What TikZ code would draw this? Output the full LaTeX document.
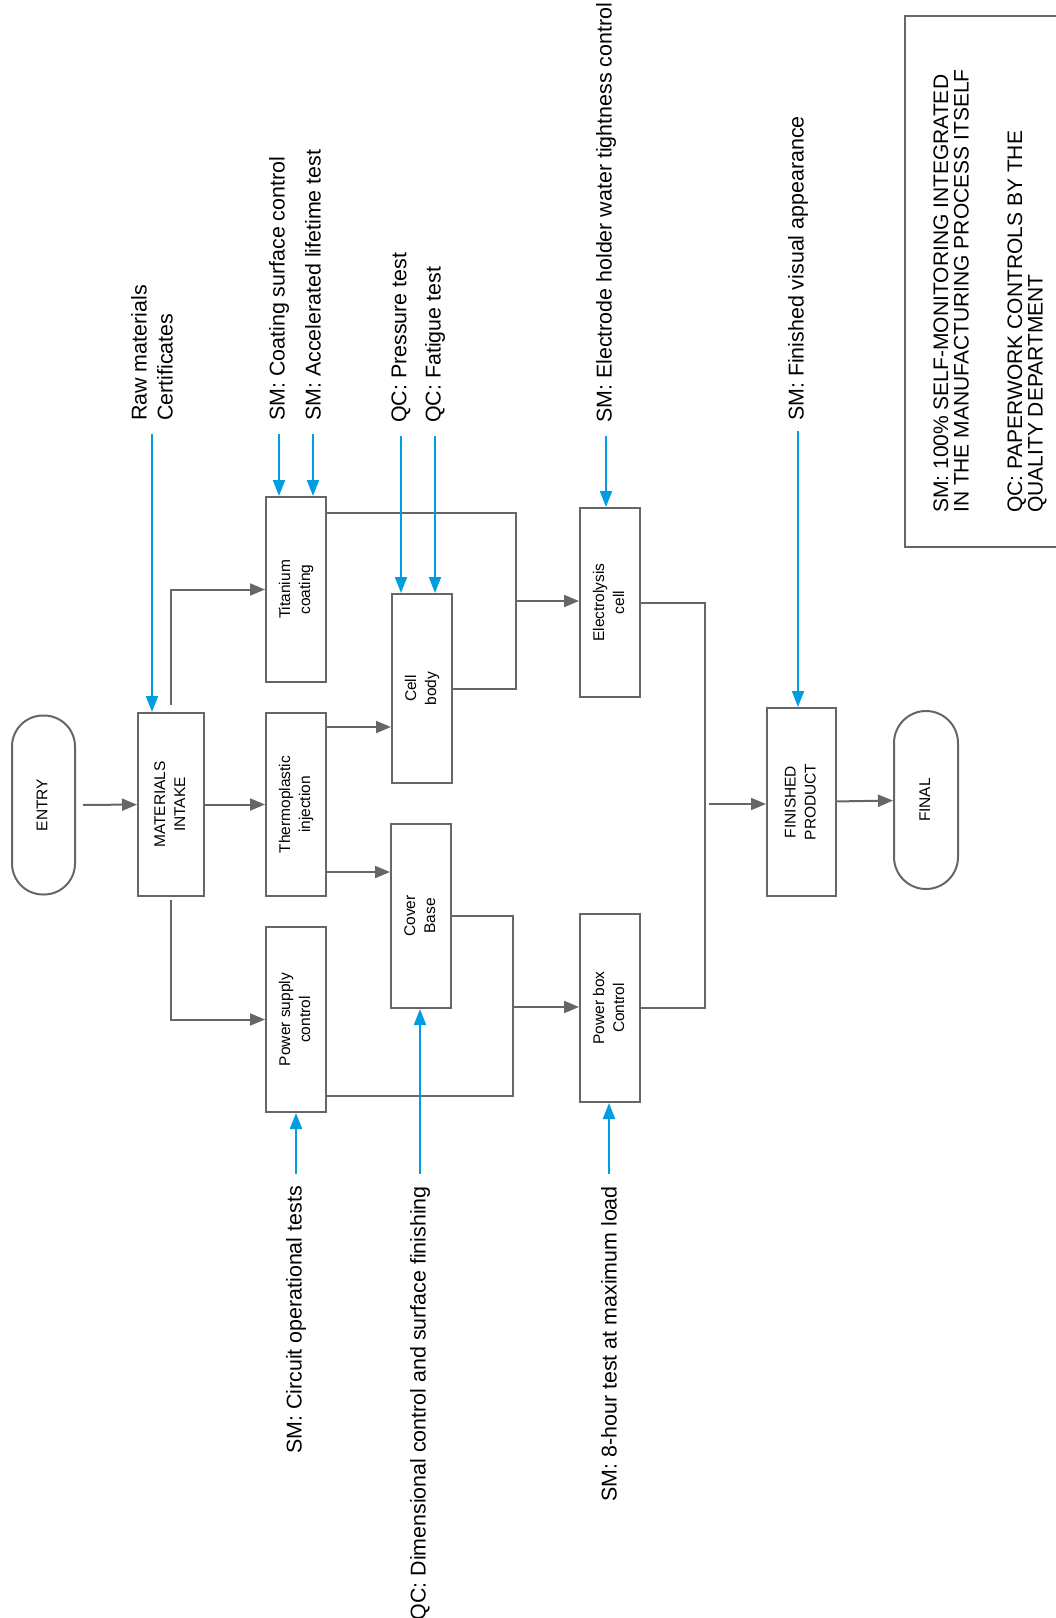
\documentclass[tikz,border=0pt]{standalone}
\usepackage{fontspec}
\setmainfont{Liberation Sans}
\usetikzlibrary{arrows.meta}
\definecolor{trait}{RGB}{102,102,102}
\definecolor{ciel}{RGB}{0,158,224}
\newcommand{\vtxt}[1]{\rotatebox{90}{\begin{tabular}{@{}c@{}}#1\end{tabular}}}

\begin{document}
\begin{tikzpicture}[x=1pt,y=-1pt,
  boite/.style={draw=trait, line width=2pt, inner sep=0pt, font=\fontsize{15.5}{20}\selectfont},
  pilule/.style={boite, rounded corners=31pt},
  etiq/.style={rotate=90, inner sep=0pt, align=left, font=\fontsize{21.4}{26}\selectfont},
  flux/.style={draw=trait, line width=2pt, -{Triangle[length=15pt,width=12pt]}},
  ligne/.style={draw=trait, line width=2pt},
  controle/.style={draw=ciel, line width=2pt, -{Triangle[length=16pt,width=12pt]}}]
\useasboundingbox (0,0) rectangle (1056,1618);
\clip (0,0) rectangle (1056,1618);

\node[pilule, minimum width=63pt, minimum height=179pt] (entry) at (43.5,805) {\vtxt{ENTRY}};
\node[boite, minimum width=66pt, minimum height=183pt] (mi) at (171,804.5) {\vtxt{MATERIALS\\INTAKE}};
\node[boite, minimum width=60pt, minimum height=185pt] (ti) at (296,589.5) {\vtxt{Titanium\\coating}};
\node[boite, minimum width=60pt, minimum height=183pt] (th) at (296,804.5) {\vtxt{Thermoplastic\\injection}};
\node[boite, minimum width=60pt, minimum height=185pt] (psc) at (296,1019.5) {\vtxt{Power supply\\control}};
\node[boite, minimum width=60pt, minimum height=189pt] (cb) at (422,688.5) {\vtxt{Cell\\body}};
\node[boite, minimum width=60pt, minimum height=184pt] (cv) at (421,916) {\vtxt{Cover\\Base}};
\node[boite, minimum width=60pt, minimum height=189pt] (ec) at (610,602.5) {\vtxt{Electrolysis\\cell}};
\node[boite, minimum width=60pt, minimum height=188pt] (pbc) at (610,1008) {\vtxt{Power box\\Control}};
\node[boite, minimum width=69pt, minimum height=188pt] (fp) at (801.5,802) {\vtxt{FINISHED\\PRODUCT}};
\node[pilule, rounded corners=32pt, minimum width=64pt, minimum height=178pt] (final) at (926,800) {\vtxt{FINAL}};

\node[etiq, anchor=west] (lraw) at (152,421) {Raw materials\\Certificates};
\node[etiq, anchor=west] (lti1) at (279,421) {SM: Coating surface control};
\node[etiq, anchor=west] (lti2) at (313,421) {SM: Accelerated lifetime test};
\node[etiq, anchor=west] (lcb1) at (401,423) {QC: Pressure test};
\node[etiq, anchor=west] (lcb2) at (435,423) {QC: Fatigue test};
\node[etiq, anchor=west] (lec) at (606,423) {SM: Electrode holder water tightness control};
\node[etiq, anchor=west] (lfp) at (798,421) {SM: Finished visual appearance};
\node[etiq, anchor=east] (lpsc) at (296,1186) {SM: Circuit operational tests};
\node[etiq, anchor=east] (lcv) at (420,1186) {QC: Dimensional control and surface finishing};
\node[etiq, anchor=east] (lpbc) at (609,1186) {SM: 8-hour test at maximum load};

\draw[ligne] (905,15.5) rectangle (1070,547);
\node[etiq, anchor=west, font=\fontsize{21}{20.5}\selectfont] (leg) at (990,513)
  {SM: 100\% SELF-MONITORING INTEGRATED\\IN THE MANUFACTURING PROCESS ITSELF\\[33pt]QC: PAPERWORK CONTROLS BY THE\\QUALITY DEPARTMENT};

\draw[flux, shorten <=7pt] (entry) -- (mi);
\draw[flux] (mi) -- (th);
\draw[flux, shorten <=7pt] (mi.north) |- (ti.west);
\draw[flux, shorten <=3pt] (mi.south) |- (psc.west);
\coordinate (t1) at ([yshift=-15pt]th.north east);
\coordinate (t2) at ([yshift=25pt]th.south east);
\draw[flux] (t1) -- (t1 -| cb.west);
\draw[flux] (t2) -- (t2 -| cv.west);

\coordinate (j1) at (516,601);
\draw[ligne] ([yshift=-17pt]ti.north east) -| (j1) |- (cb.east);
\draw[flux] (j1) -- (j1 -| ec.west);
\coordinate (j2) at (513,1007);
\draw[ligne] (cv.east) -| (j2) |- ([yshift=17pt]psc.south east);
\draw[flux] (j2) -- (j2 -| pbc.west);
\coordinate (j3) at (705,804);
\draw[ligne] (ec.east) -| (j3) |- (pbc.east);
\draw[flux, shorten <=4pt] (j3) -- (j3 -| fp.west);
\draw[flux] (fp) -- (final);

\draw[controle, shorten <=13pt] (lraw.west) -- (lraw.west |- mi.north);
\draw[controle, shorten <=13pt] (lti1.west) -- (lti1.west |- ti.north);
\draw[controle, shorten <=13pt] (lti2.west) -- (lti2.west |- ti.north);
\draw[controle, shorten <=13pt] (lcb1.west) -- (lcb1.west |- cb.north);
\draw[controle, shorten <=13pt] (lcb2.west) -- (lcb2.west |- cb.north);
\draw[controle, shorten <=13pt] (lec.west) -- (lec.west |- ec.north);
\draw[controle, shorten <=10pt] (lfp.west) -- (lfp.west |- fp.north);
\draw[controle, shorten <=12pt] (lpsc.east) -- (lpsc.east |- psc.south);
\draw[controle, shorten <=12pt] (lcv.east) -- (lcv.east |- cv.south);
\draw[controle, shorten <=12pt] (lpbc.east) -- (lpbc.east |- pbc.south);
\end{tikzpicture}
\end{document}
